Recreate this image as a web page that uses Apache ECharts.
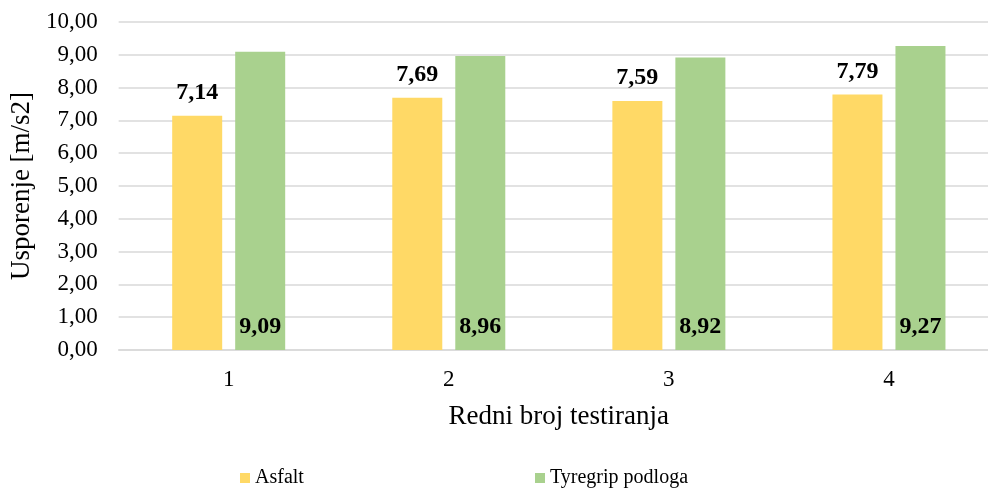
<!DOCTYPE html>
<html>
<head>
<meta charset="utf-8">
<script src="https://cdn.jsdelivr.net/npm/echarts@6/dist/echarts.min.js"></script>
<style>html,body{margin:0;padding:0;background:#fff;overflow:hidden;width:988px;height:490px}#c{width:999px;height:490px}</style>
</head>
<body>
<div id="c"></div>
<script>
const categories = ['1', '2', '3', '4'];
const asfalt = [7.14, 7.69, 7.59, 7.79];
const tyregrip = [9.09, 8.96, 8.92, 9.27];
const seriesNames = ['Asfalt', 'Tyregrip podloga'];
const yAxisName = 'Usporenje [m/s2]';
const xAxisName = 'Redni broj testiranja';

const font = 'Liberation Serif, Times New Roman, serif';
const fmt = v => Number(v).toFixed(2).replace('.', ',');
const chart = echarts.init(document.getElementById('c'));
chart.setOption({
  animation: false,
  textStyle: { fontFamily: font, color: '#000' },
  grid: { left: 117, right: 0, top: 22, bottom: 140 },
  legend: [
    { data: [seriesNames[0]], left: 235, top: 463, itemWidth: 10, itemHeight: 10, itemGap: 3,
      icon: 'rect', textStyle: { fontFamily: font, fontSize: 20, color: '#000' } },
    { data: [seriesNames[1]], left: 530, top: 463, itemWidth: 10, itemHeight: 10, itemGap: 3,
      icon: 'rect', textStyle: { fontFamily: font, fontSize: 20, color: '#000' } }
  ],
  xAxis: {
    type: 'category', data: categories,
    name: xAxisName, nameLocation: 'middle', nameGap: 53,
    nameTextStyle: { fontFamily: font, fontSize: 27, color: '#000' },
    axisLine: { lineStyle: { color: '#d9d9d9', width: 1.5 } },
    axisTick: { show: false },
    axisLabel: { fontFamily: font, fontSize: 23, color: '#000', margin: 18 }
  },
  yAxis: {
    type: 'value', min: 0, max: 10, interval: 1,
    name: yAxisName, nameLocation: 'middle', nameGap: 82, nameRotate: 90,
    nameTextStyle: { fontFamily: font, fontSize: 27, color: '#000' },
    axisLabel: { fontFamily: font, fontSize: 23, color: '#000', margin: 21, formatter: fmt },
    splitLine: { lineStyle: { color: '#d9d9d9', width: 1.5 } },
    axisLine: { show: false }, axisTick: { show: false }
  },
  series: [
    { name: seriesNames[0], type: 'bar', data: asfalt, barWidth: 50, barGap: '26%',
      itemStyle: { color: '#FFD966' },
      label: { show: true, position: 'top', distance: 11, fontFamily: font, fontSize: 24,
        fontWeight: 'bold', color: '#000', formatter: p => fmt(p.value) } },
    { name: seriesNames[1], type: 'bar', data: tyregrip, barWidth: 50,
      itemStyle: { color: '#A9D18E' },
      label: { show: true, position: 'insideBottom', distance: 11, fontFamily: font, fontSize: 24,
        fontWeight: 'bold', color: '#000', formatter: p => fmt(p.value) } }
  ]
});
</script>
</body>
</html>
